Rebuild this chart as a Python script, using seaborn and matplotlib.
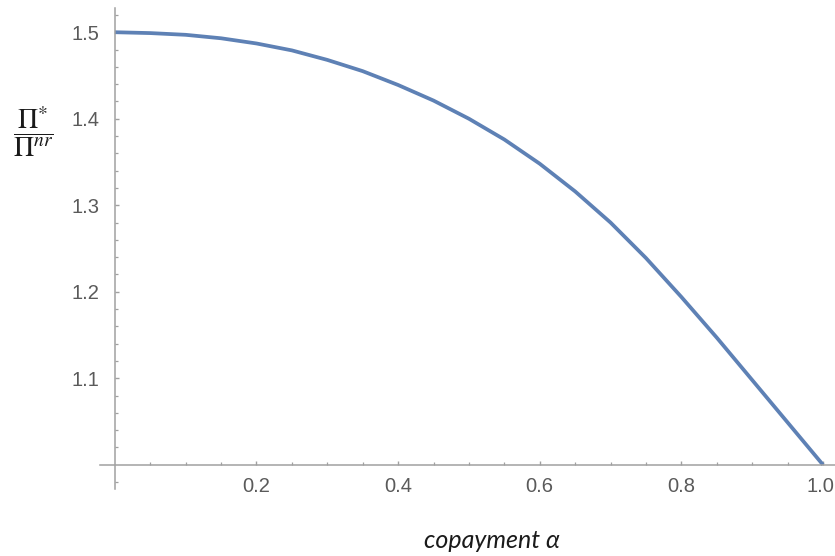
import numpy as np
import pandas as pd
import matplotlib
matplotlib.use("Agg")
import matplotlib.pyplot as plt
import matplotlib.transforms as mtransforms
import seaborn as sns
from matplotlib.ticker import FixedLocator

# ---- data ----
alpha = [0.00, 0.05, 0.10, 0.15, 0.20, 0.25, 0.30, 0.35, 0.40, 0.45, 0.50,
         0.55, 0.60, 0.65, 0.70, 0.75, 0.80, 0.85, 0.90, 0.95, 1.00]
ratio = [1.500, 1.499, 1.497, 1.493, 1.487, 1.479, 1.468, 1.455, 1.439, 1.421, 1.400,
         1.376, 1.348, 1.316, 1.280, 1.239, 1.194, 1.147, 1.098, 1.049, 1.000]
x_ticks = [0.2, 0.4, 0.6, 0.8, 1.0]
x_tick_labels = ["0.2", "0.4", "0.6", "0.8", "1.0"]
x_minor = [0.05, 0.10, 0.15, 0.25, 0.30, 0.35, 0.45, 0.50, 0.55,
           0.65, 0.70, 0.75, 0.85, 0.90, 0.95]
y_ticks = [1.1, 1.2, 1.3, 1.4, 1.5]
y_tick_labels = ["1.1", "1.2", "1.3", "1.4", "1.5"]
y_minor = [0.98, 1.02, 1.04, 1.06, 1.08, 1.12, 1.14, 1.16, 1.18, 1.22, 1.24, 1.26, 1.28,
           1.32, 1.34, 1.36, 1.38, 1.42, 1.44, 1.46, 1.48, 1.52]

df = pd.DataFrame({"alpha": alpha, "ratio": ratio})

sns.set_style("white")
plt.rcParams["font.family"] = ["Liberation Sans", "DejaVu Sans"]
plt.rcParams["mathtext.fontset"] = "stix"

W, H = 835, 556
fig = plt.figure(figsize=(W / 100, H / 100), dpi=100)
# axes spanning pixel box: left 100, right 835, top 8, bottom 489
ax = fig.add_axes([100 / W, (H - 489) / H, 735 / W, (489 - 8) / H])

line_color = (0.368417, 0.506779, 0.709798)
sns.lineplot(data=df, x="alpha", y="ratio", ax=ax, color=line_color, linewidth=2.7)
for ln in ax.get_lines():
    ln.set_solid_joinstyle("round")
    ln.set_solid_capstyle("butt")

ax.set_xlim(-0.021, 1.017)
ax.set_ylim(0.972, 1.528)

axis_color = "#a0a0a0"
for s in ["top", "right"]:
    ax.spines[s].set_visible(False)
ax.spines["left"].set_position(("data", 0.0))
ax.spines["bottom"].set_position(("data", 1.0))
for s in ["left", "bottom"]:
    ax.spines[s].set_color(axis_color)
    ax.spines[s].set_linewidth(1.1)

ax.xaxis.set_major_locator(FixedLocator(x_ticks))
ax.set_xticklabels(x_tick_labels)
ax.xaxis.set_minor_locator(FixedLocator(x_minor))
ax.yaxis.set_major_locator(FixedLocator(y_ticks))
ax.set_yticklabels(y_tick_labels)
ax.yaxis.set_minor_locator(FixedLocator(y_minor))

ax.tick_params(axis="both", which="both", bottom=True, left=True, top=False, right=False)
ax.tick_params(axis="both", which="major", direction="in", length=3.2, width=1.0,
               color=axis_color, labelcolor="#5a5a5a", labelsize=14.5)
ax.tick_params(axis="both", which="minor", direction="in", length=2.0, width=0.9,
               color=axis_color)
ax.tick_params(axis="x", which="major", pad=9)
ax.tick_params(axis="y", which="major", pad=11)

# nudge the last x label inward so it stays inside the canvas
last = ax.get_xticklabels()[-1]
last.set_transform(last.get_transform() + mtransforms.ScaledTranslation(-3 / 100, 0, fig.dpi_scale_trans))

ax.set_xlabel("")
ax.set_ylabel("")

fig.text(492 / W, 1 - 540 / H, "copayment α", ha="center", va="center",
         fontsize=18, style="italic", family=["Lato", "DejaVu Sans"], color="#1a1a1a")
fig.text(33 / W, 1 - 132 / H, r"$\dfrac{\Pi^{*}}{\Pi^{nr}}$", ha="center", va="center",
         fontsize=20, color="#1a1a1a")

fig.savefig("out.png", dpi=100, facecolor="white")
